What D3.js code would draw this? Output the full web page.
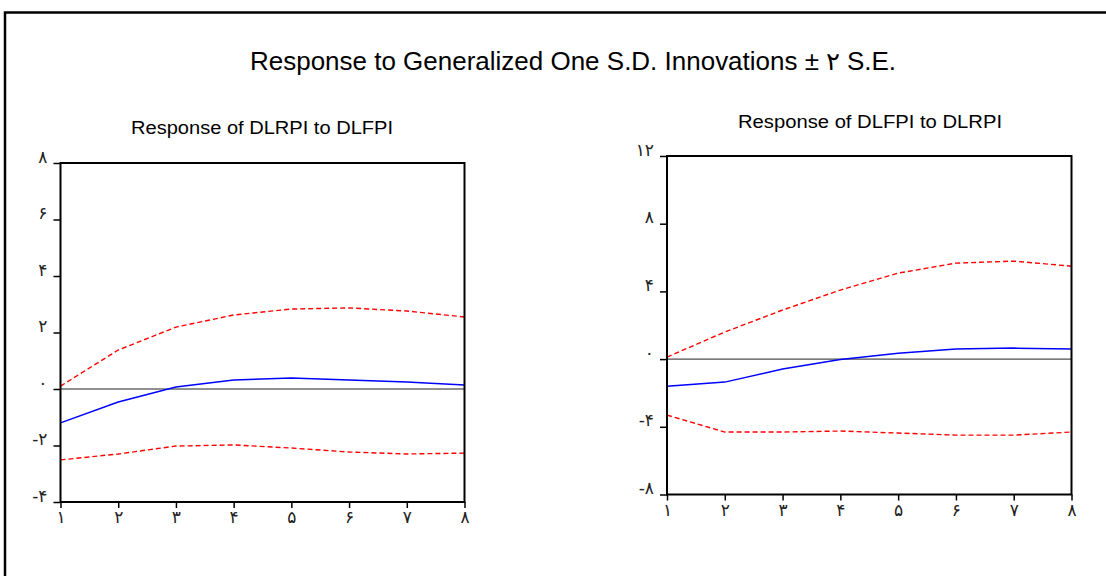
<!DOCTYPE html>
<html>
<head>
<meta charset="utf-8">
<script src="https://cdn.jsdelivr.net/npm/d3@7"></script>
<style>
body { margin: 0; background: #fff; }
svg { display: block; }
text { font-family: "Liberation Sans Narrow", "Liberation Sans", Arial, sans-serif; }
</style>
</head>
<body>
<svg id="chart" width="1106" height="576"></svg>
<script>
const periods = [1, 2, 3, 4, 5, 6, 7, 8];

// Response of DLRPI to DLFPI
const leftResponse = [-1.2, -0.46, 0.07, 0.32, 0.39, 0.32, 0.25, 0.14];
const leftUpper    = [0.1, 1.38, 2.19, 2.62, 2.83, 2.87, 2.76, 2.55];
const leftLower    = [-2.51, -2.3, -2.02, -1.98, -2.09, -2.23, -2.3, -2.27];
const leftYTicks   = [-4, -2, 0, 2, 4, 6, 8];

// Response of DLFPI to DLRPI
const rightResponse = [-1.6, -1.36, -0.59, -0.02, 0.35, 0.59, 0.65, 0.59];
const rightUpper    = [0.12, 1.6, 2.9, 4.08, 5.08, 5.67, 5.79, 5.49];
const rightLower    = [-3.31, -4.31, -4.31, -4.25, -4.37, -4.49, -4.49, -4.31];
const rightYTicks   = [-8, -4, 0, 4, 8, 12];

const mainTitle = "Response to Generalized One S.D. Innovations \u00B1 \u06F2 S.E.";
const leftTitle = "Response of DLRPI to DLFPI";
const rightTitle = "Response of DLFPI to DLRPI";

const faDigits = "۰۱۲۳۴۵۶۷۸۹";
const toFa = n => String(n).replace(/\d/g, d => faDigits[+d]);

const svg = d3.select("#chart");

// outer frame (only top and left visible, cropped)
svg.append("path")
  .attr("d", "M5,576 L5,12.5 L1106,12.5")
  .attr("fill", "none").attr("stroke", "#000").attr("stroke-width", 2.5);

svg.append("text")
  .attr("x", 573).attr("y", 70)
  .attr("text-anchor", "middle")
  .attr("font-size", 25)
  .attr("textLength", 646).attr("lengthAdjust", "spacingAndGlyphs")
  .text(mainTitle);

function panel(cfg) {
  const g = svg.append("g");
  const x = d3.scaleLinear().domain([1, 8]).range([cfg.left, cfg.right]);
  const y = d3.scaleLinear().domain(cfg.domain).range([cfg.bottom, cfg.top]);

  g.append("text")
    .attr("x", cfg.titleX).attr("y", cfg.titleY)
    .attr("text-anchor", "middle").attr("font-size", 18)
    .attr("textLength", cfg.titleLen).attr("lengthAdjust", "spacingAndGlyphs")
    .text(cfg.title);

  // zero line
  g.append("line")
    .attr("x1", cfg.left).attr("x2", cfg.right)
    .attr("y1", y(0)).attr("y2", y(0))
    .attr("stroke", "#222").attr("stroke-width", 1);

  const line = d3.line().x((d, i) => x(periods[i])).y(d => y(d));

  g.append("path").datum(cfg.upper).attr("d", line)
    .attr("fill", "none").attr("stroke", "#ff0000").attr("stroke-width", 1.4)
    .attr("stroke-dasharray", "5,3");
  g.append("path").datum(cfg.lower).attr("d", line)
    .attr("fill", "none").attr("stroke", "#ff0000").attr("stroke-width", 1.4)
    .attr("stroke-dasharray", "5,3");
  g.append("path").datum(cfg.resp).attr("d", line)
    .attr("fill", "none").attr("stroke", "#0000ff").attr("stroke-width", 1.5);

  // frame
  g.append("rect")
    .attr("x", cfg.left).attr("y", cfg.top)
    .attr("width", cfg.right - cfg.left).attr("height", cfg.bottom - cfg.top)
    .attr("fill", "none").attr("stroke", "#000").attr("stroke-width", 2);

  const yAxis = g.append("g").attr("transform", `translate(${cfg.left},0)`)
    .call(d3.axisLeft(y).tickValues(cfg.yTicks).tickSize(7).tickPadding(6).tickFormat(toFa));
  yAxis.select(".domain").remove();
  yAxis.selectAll(".tick line").attr("stroke", "#000").attr("stroke-width", 1.5);
  yAxis.selectAll(".tick text").attr("font-size", 17).attr("fill", "#222")
    .attr("dy", "-0.05em").style("font-family", "DejaVu Sans, sans-serif").style("direction", "ltr");

  const xAxis = g.append("g").attr("transform", `translate(0,${cfg.bottom})`)
    .call(d3.axisBottom(x).tickValues(periods).tickSize(6).tickPadding(3).tickFormat(toFa));
  xAxis.select(".domain").remove();
  xAxis.selectAll(".tick line").attr("stroke", "#000").attr("stroke-width", 1.5);
  xAxis.selectAll(".tick text").attr("font-size", 17).attr("fill", "#222")
    .style("font-family", "DejaVu Sans, sans-serif");
}

panel({
  left: 60.5, right: 464.5, top: 163, bottom: 502, domain: [-4, 8],
  yTicks: leftYTicks, resp: leftResponse, upper: leftUpper, lower: leftLower,
  title: leftTitle, titleX: 262, titleY: 134, titleLen: 262
});

panel({
  left: 667, right: 1071.5, top: 156, bottom: 494.5, domain: [-8, 12],
  yTicks: rightYTicks, resp: rightResponse, upper: rightUpper, lower: rightLower,
  title: rightTitle, titleX: 870, titleY: 128, titleLen: 264
});
</script>
</body>
</html>
